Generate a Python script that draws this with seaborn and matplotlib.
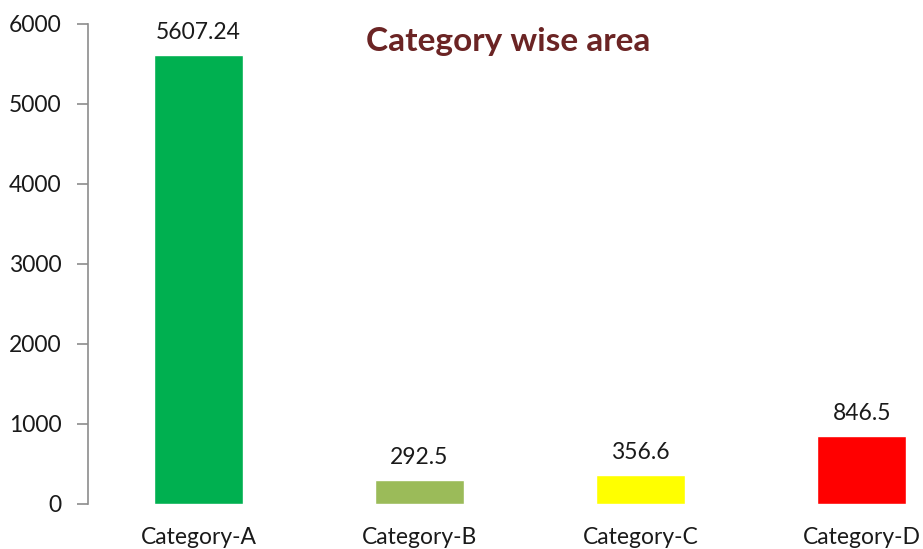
import matplotlib
matplotlib.use("Agg")
import matplotlib.pyplot as plt
import seaborn as sns
import pandas as pd

categories = ["Category-A", "Category-B", "Category-C", "Category-D"]
areas = [5607.24, 292.5, 356.6, 846.5]
value_labels = ["5607.24", "292.5", "356.6", "846.5"]
bar_colors = ["#00B050", "#9BBB59", "#FFFF00", "#FF0000"]
y_ticks = [0, 1000, 2000, 3000, 4000, 5000, 6000]

df = pd.DataFrame({"category": categories, "area": areas})

sns.set_style("white")
plt.rcParams["font.family"] = ["Lato", "DejaVu Sans"]

fig = plt.figure(figsize=(9.23, 5.49), dpi=100)
# axes runs past the right edge, as in the original
ax = fig.add_axes([0.0953, 0.0825, 0.958, 0.874])

sns.barplot(data=df, x="category", y="area", hue="category",
            palette=bar_colors, width=0.4, legend=False, ax=ax, saturation=1)

for cont, lab in zip(ax.containers, value_labels):
    ax.bar_label(cont, labels=[lab], padding=9, fontsize=16.5, color="#1a1a1a")

ax.set_xlim(-0.5, 3.5)
ax.set_ylim(0, 6000)
ax.set_yticks(y_ticks)
ax.set_xlabel("")
ax.set_ylabel("")

for side in ["top", "right", "bottom"]:
    ax.spines[side].set_visible(False)
ax.spines["left"].set_color("#8c8c8c")
ax.spines["left"].set_linewidth(1.2)

ax.tick_params(axis="y", length=8, width=1.2, color="#8c8c8c", pad=11,
               labelsize=16.5, labelcolor="#1a1a1a", left=True)
ax.tick_params(axis="x", length=0, pad=17, labelsize=16.5, labelcolor="#1a1a1a")

fig.text(0.551, 0.925, "Category wise area", ha="center", va="center",
         fontsize=24, fontweight="bold", color="#6B2424")

fig.savefig("out.png", dpi=100)
